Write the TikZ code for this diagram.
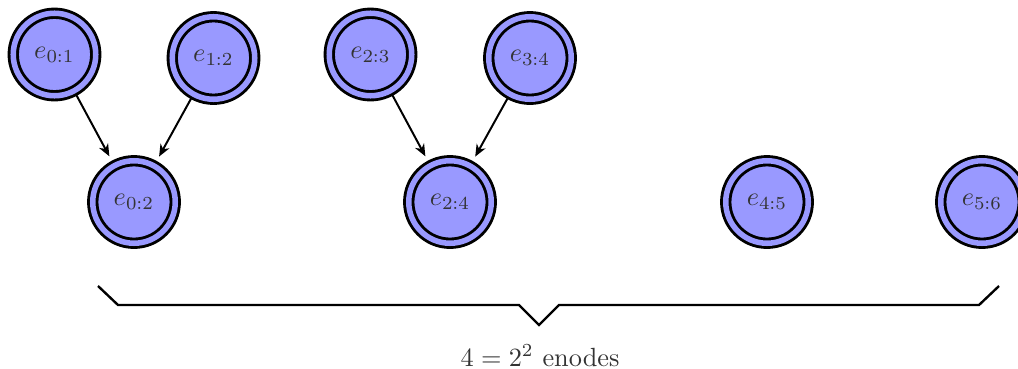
\documentclass[tikz,border=0pt]{standalone}
\usetikzlibrary{arrows.meta}
\begin{document}
\begin{tikzpicture}[x=0.38pt,y=-0.38pt,
  enode/.style={circle, draw=black, line width=1.1pt, double=blue!40,
    double distance=2.1pt, fill=blue!40, minimum size=31.35pt,
    inner sep=0pt, text=black!80},
  edgearrow/.style={line width=0.75pt,
    -{Stealth[length=4.6pt,width=3.8pt,inset=1.4pt]},
    shorten >=3.5pt, shorten <=1pt},
  braceline/.style={line width=0.9pt, line join=miter}]
\useasboundingbox (0,0) rectangle (1018,368);

\node[enode] (e01) at (54.5,54.5) {$e_{0:1}$};
\node[enode] (e12) at (213.5,58) {$e_{1:2}$};
\node[enode] (e23) at (370.5,54.5) {$e_{2:3}$};
\node[enode] (e34) at (530,58) {$e_{3:4}$};
\node[enode] (e02) at (134,202) {$e_{0:2}$};
\node[enode] (e24) at (450,202) {$e_{2:4}$};
\node[enode] (e45) at (767,202) {$e_{4:5}$};
\node[enode] (e56) at (982,202) {$e_{5:6}$};

\draw[edgearrow] (e01) -- (e02);
\draw[edgearrow] (e12) -- (e02);
\draw[edgearrow] (e23) -- (e24);
\draw[edgearrow] (e34) -- (e24);

\coordinate (bl) at (98,286);
\coordinate (br) at (999,286);
\coordinate (btip) at (539,325);
\draw[braceline] (bl) -- (118,305) -- (519,305) -- (btip) -- (559,305) -- (979,305) -- (br);
\node[anchor=base, text=black!80, inner sep=0pt] (lbl) at (540,366) {$4=2^2$ enodes};
\end{tikzpicture}
\end{document}
